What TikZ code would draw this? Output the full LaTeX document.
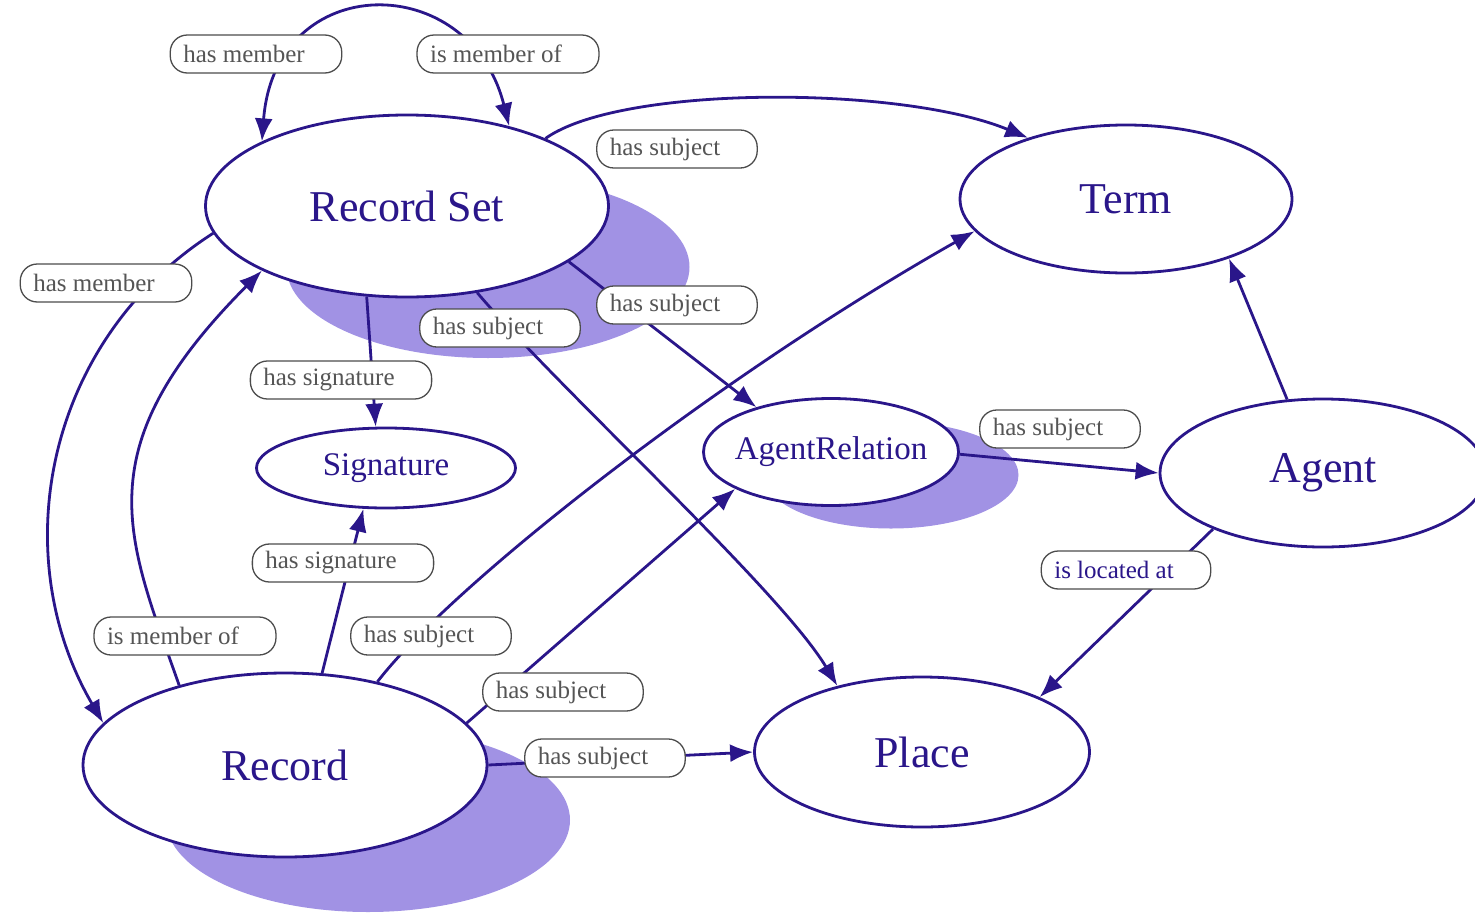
\documentclass[tikz,border=0pt]{standalone}
\usepackage{fontspec}
\setmainfont{Liberation Serif}
\usetikzlibrary{shapes.geometric,arrows.meta,shadows}

\definecolor{ink}{RGB}{42,22,138}
\definecolor{shade}{RGB}{161,146,228}
\definecolor{lblgray}{RGB}{85,85,85}

\tikzset{
  cls/.style={ellipse, draw=ink, line width=2.8pt, fill=white, text=ink, inner sep=0pt,
    font=\fontsize{44}{48}\selectfont},
  small/.style={font=\fontsize{33}{36}\selectfont},
  shaded/.style 2 args={drop shadow={shadow xshift=#1pt, shadow yshift=-#2pt, fill=shade, opacity=1}},
  rel/.style={draw=ink, line width=2.8pt},
  lbl/.style={draw=black!70, line width=1.3pt, fill=white, rounded corners=17pt, text=lblgray,
    minimum height=38pt, inner xsep=13pt, inner ysep=0pt, font=\fontsize{25}{28}\selectfont,
    execute at end node=\hspace{24pt}},
  >={Latex[length=23pt,width=18pt]}
}

\begin{document}
\begin{tikzpicture}[x=1pt,y=-1pt]
    \useasboundingbox (0,0) rectangle (1475,913);

    \node[cls, minimum width=403pt, minimum height=182pt, shaded={81}{61}] (recset) at (407,206) {Record Set};
    \node[cls, minimum width=332pt, minimum height=148pt] (term) at (1126,199) {Term};
    \node[cls, small, minimum width=259pt, minimum height=80pt] (sig) at (386,468) {Signature};
    \node[cls, small, inner xsep=-8pt, minimum width=255pt, minimum height=107pt, shaded={60}{23}] (agrel) at (831,452) {AgentRelation};
    \node[cls, minimum width=326pt, minimum height=148pt] (agent) at (1323,473) {Agent};
    \node[cls, minimum width=404pt, minimum height=184pt, shaded={83}{55}] (rec) at (285,765) {Record};
    \node[cls, minimum width=335pt, minimum height=150pt] (place) at (922,752) {Place};

    \draw[rel,<->] (recset.156) .. controls (275,-31) and (470,-31) .. (recset.38);
    \draw[rel,->] (recset.26) .. controls (620,85) and (900,85) .. (term.148);
    \draw[rel,->] (recset.-19.5) -- (agrel.149.5);
    \draw[rel,->] (recset.-51) .. controls (560,390) and (780,590) .. (place.142);
    \draw[rel,->] (recset.-114) -- (sig.104);
    \draw[rel,->] (recset.188) .. controls (45,341) and (5,555) .. (rec.167);
    \draw[rel,->] (rec.143.5) .. controls (127,537) and (83,450) .. (recset.204);
    \draw[rel,->] (rec.68) -- (sig.241);
    \draw[rel,->] (rec.42) .. controls (450,587) and (712,380) .. (term.192.5);
    \draw[rel,->] (rec.13.4) -- (agrel.201);
    \draw[rel,->] (rec.0.5) -- (place.west);
    \draw[rel,->] (agrel.-1) -- (agent.west);
    \draw[rel,->] (agent.116) -- (term.-30);
    \draw[rel,->] (agent.207) -- (place.25);

    \node[lbl] (rsmember) at (256,54) {has member};
    \node[lbl] (rsmemberof) at (508,54) {is member of};
    \node[lbl] (rsterm) at (677,149) {has subject};
    \node[lbl] (rsrec) at (106,283) {has member};
    \node[lbl] (rsagrel) at (677,305) {has subject};
    \node[lbl] (rsplace) at (500,328) {has subject};
    \node[lbl] (rssig) at (341,380) {has signature};
    \node[lbl] (agrelagent) at (1060,429) {has subject};
    \node[lbl] (recsig) at (343,563) {has signature};
    \node[lbl, text=ink] (located) at (1126,570) {is located at};
    \node[lbl] (recrs) at (185,636) {is member of};
    \node[lbl] (recterm) at (431,636) {has subject};
    \node[lbl] (recagrel) at (563,692) {has subject};
    \node[lbl] (recplace) at (605,758) {has subject};
\end{tikzpicture}
\end{document}
